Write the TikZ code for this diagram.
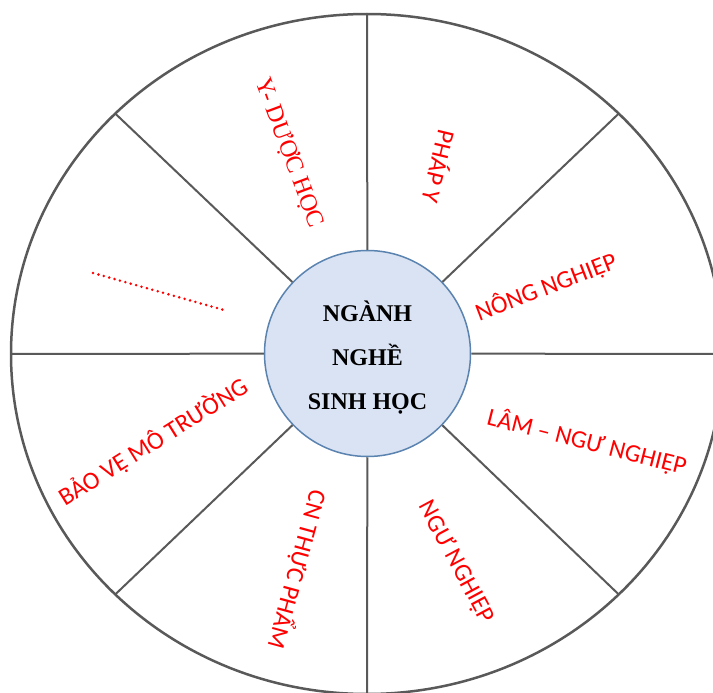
\documentclass[tikz,border=0pt]{standalone}
\usepackage{fontspec}
\setmainfont{Liberation Serif}
\newfontfamily\lblfont{Carlito}
\usetikzlibrary{calc}
\definecolor{wheelgray}{HTML}{595959}
\definecolor{hubfill}{HTML}{DAE3F3}
\definecolor{hubline}{HTML}{5A83B0}
\begin{document}
\begin{tikzpicture}[x=1pt,y=-1pt,
  rim/.style={draw=wheelgray,line width=2.5pt},
  spoke/.style={draw=wheelgray,line width=2pt},
  hub/.style={circle,draw=hubline,fill=hubfill,line width=1.5pt,minimum size=206pt,inner sep=0pt},
  lbl/.style={text=red,font=\lblfont\fontsize{25}{28}\selectfont,inner sep=0pt,anchor=center},
  lblserif/.style={text=red,font=\fontsize{24.5}{28}\selectfont,inner sep=0pt,anchor=center},
  dots/.style={draw=red,line width=2.8pt,line cap=round,dash pattern=on 0pt off 5.6pt}]
\useasboundingbox (0,0) rectangle (713,693);
\clip (0,0) rectangle (713,693);
\coordinate (c) at (367,354);
\draw[rim] (c) ellipse [x radius=356pt, y radius=340pt];
\foreach \a/\n in {0/o0,45/o45,90/o90,135/o135,180/o180,225/o225,270/o270,315/o315}
  \coordinate (\n) at ($(c)+(\a:356pt and 340pt)$);
\node[hub] (hub) at (367.5,353.5) {};
\foreach \n in {o0,o45,o90,o135,o180,o225,o270,o315}
  \draw[spoke] (hub) -- (\n);
\node[align=center,font=\bfseries\fontsize{24}{44}\selectfont] (title) at (367.5,358) {NGÀNH\\NGHỀ\\SINH HỌC};
\node[lblserif,rotate=-69.6] (yduoc) at (289,153) {Y- DƯỢC HỌC};
\node[lbl,rotate=-103.6] (phapy) at (440,167) {PHÁP Y};
\node[lbl,rotate=21] (nong) at (546,287) {NÔNG NGHIỆP};
\node[lbl,rotate=-14.3] (lam) at (587,442) {LÂM – NGƯ NGHIỆP};
\node[lbl,rotate=-61.7] (ngu) at (456,562) {NGƯ NGHIỆP};
\node[lbl,rotate=-105.3] (cn) at (298,570) {CN THỰC PHẨM};
\node[lbl,rotate=32] (baove) at (153,442) {BẢO VỆ MÔ TRƯỜNG};
\coordinate (d1) at (93,273);
\coordinate (d2) at (224,310);
\draw[dots] (d1) -- (d2);
\end{tikzpicture}
\end{document}
